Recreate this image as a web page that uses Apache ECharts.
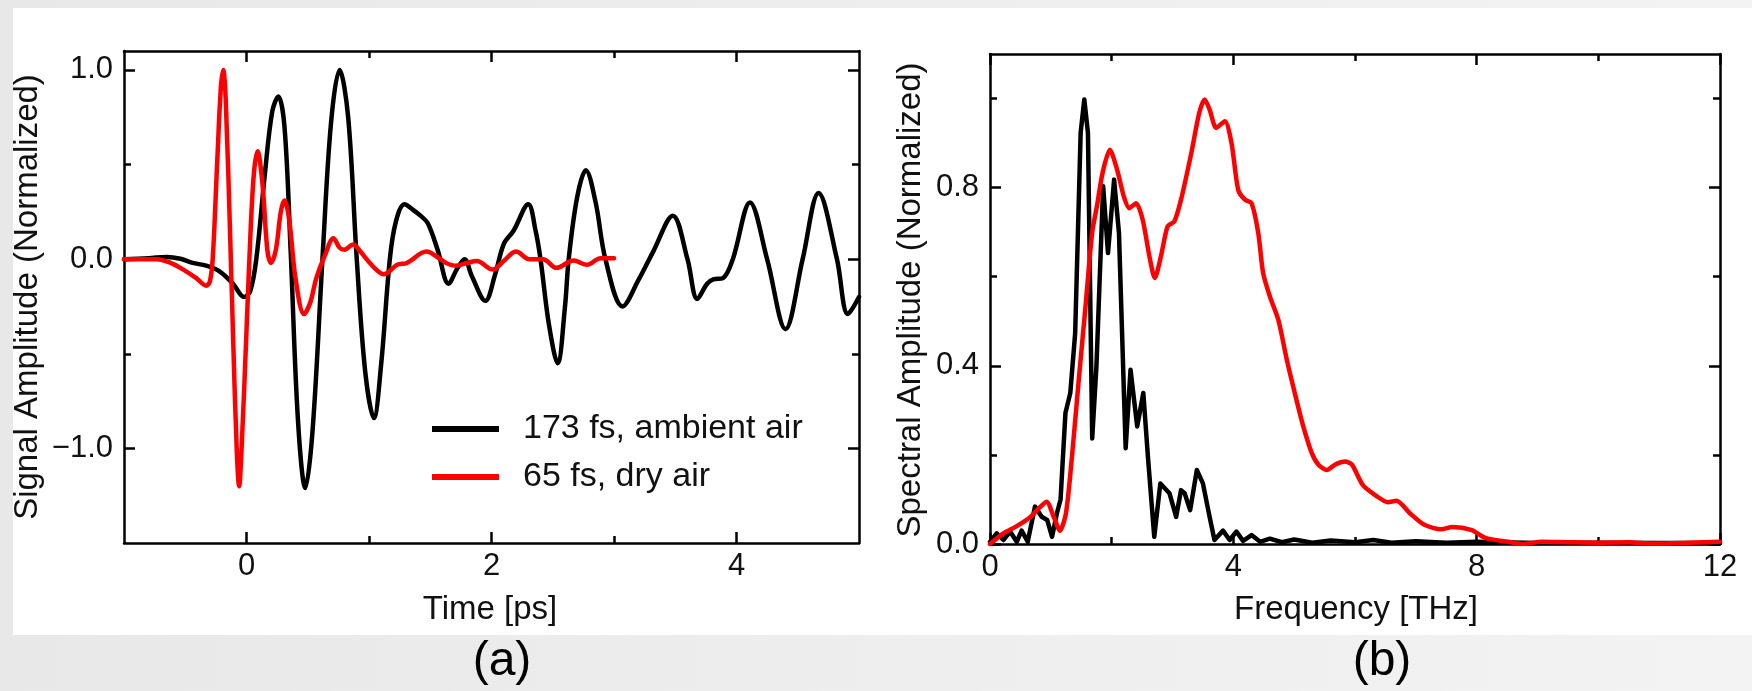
<!DOCTYPE html>
<html><head><meta charset="utf-8">
<script src="https://cdn.jsdelivr.net/npm/echarts@6/dist/echarts.min.js"></script>
<style>
html,body{margin:0;padding:0;width:1752px;height:691px;overflow:hidden;background:linear-gradient(to right,#e8e8e8,#f3f3f3);}
#panel{position:absolute;left:13px;top:8px;width:1739px;height:627px;background:#fff;}
#chart{position:absolute;left:0;top:0;width:1752px;height:691px;}
</style></head><body><div id="panel"></div><div id="chart"></div>
<script>
// ---- Data ----
const seriesNames = ['173 fs, ambient air', '65 fs, dry air'];
const panelLabels = ['(a)', '(b)'];
const axisTitles = ['Time [ps]', 'Signal Amplitude (Normalized)', 'Frequency [THz]', 'Spectral Amplitude (Normalized)'];

const timeMajorTicks = [0, 2, 4];
const timeMinorTicks = [1, 3];
const signalMajorTicks = [-1, 0, 1];
const signalMinorTicks = [-0.5, 0.5];
const freqMajorTicks = [0, 4, 8, 12];
const freqMinorTicks = [2, 6, 10];
const specMajorTicks = [0, 0.4, 0.8];
const specMinorTicks = [0.2, 0.6, 1.0];

// time-domain signal, ambient air (black)
const signalAmbient = [
  [-1.0,0.0],[-0.8,0.005],[-0.65,0.012],[-0.54,0.002],[-0.44,-0.02],[-0.33,-0.034],[-0.22,-0.064],
  [-0.11,-0.13],[-0.02,-0.2],[0.03,-0.17],[0.08,0.0],[0.15,0.45],[0.21,0.78],[0.26,0.86],[0.31,0.7],
  [0.36,0.05],[0.42,-0.85],[0.48,-1.21],[0.54,-0.9],[0.62,0.0],[0.69,0.72],[0.76,1.0],[0.83,0.75],
  [0.9,0.0],[0.97,-0.6],[1.04,-0.84],[1.1,-0.55],[1.17,0.0],[1.22,0.2],[1.29,0.29],[1.36,0.26],
  [1.42,0.23],[1.48,0.19],[1.56,0.05],[1.65,-0.13],[1.72,-0.05],[1.78,0.0],[1.84,-0.09],[1.95,-0.22],
  [2.03,-0.08],[2.1,0.08],[2.18,0.15],[2.3,0.29],[2.36,0.15],[2.4,0.0],[2.47,-0.35],[2.54,-0.55],
  [2.6,-0.25],[2.63,0.0],[2.7,0.33],[2.77,0.47],[2.85,0.3],[2.93,0.0],[3.07,-0.25],[3.2,-0.11],
  [3.32,0.04],[3.48,0.23],[3.6,0.0],[3.68,-0.21],[3.76,-0.13],[3.81,-0.107],[3.89,-0.1],[3.97,0.0],
  [4.11,0.3],[4.25,0.0],[4.4,-0.37],[4.54,0.0],[4.67,0.35],[4.82,0.0],[4.91,-0.29],[5.0,-0.2]
];
// time-domain signal, dry air (red)
const signalDry = [
  [-1.0,0.0],[-0.73,0.0],[-0.62,-0.02],[-0.54,-0.046],[-0.41,-0.1],[-0.33,-0.14],[-0.3,-0.12],
  [-0.276,0.0],[-0.24,0.5],[-0.21,0.9],[-0.19,1.0],[-0.17,0.85],[-0.13,0.05],[-0.11,-0.4],
  [-0.08,-1.0],[-0.06,-1.2],[-0.04,-1.0],[0.0,-0.38],[0.03,0.1],[0.06,0.45],[0.09,0.57],[0.13,0.4],
  [0.17,0.05],[0.2,-0.02],[0.24,0.05],[0.28,0.25],[0.31,0.31],[0.35,0.2],[0.4,-0.1],[0.47,-0.29],
  [0.52,-0.23],[0.57,-0.1],[0.64,0.02],[0.71,0.11],[0.76,0.06],[0.8,0.05],[0.87,0.078],[0.93,0.04],
  [0.98,0.0],[1.05,-0.05],[1.12,-0.08],[1.23,-0.03],[1.31,-0.02],[1.47,0.04],[1.56,0.01],[1.63,-0.02],
  [1.71,-0.035],[1.8,-0.02],[1.88,-0.01],[2.01,-0.055],[2.1,-0.01],[2.2,0.04],[2.31,0.0],[2.42,0.0],
  [2.53,-0.046],[2.67,-0.007],[2.78,-0.03],[2.89,0.005],[3.0,0.005]
];
// spectrum, ambient air (black)
const spectrumAmbient = [
  [0,0.005],[0.11,0.024],[0.22,0.009],[0.33,0.028],[0.44,0.005],[0.52,0.03],[0.62,0.005],[0.74,0.084],
  [0.85,0.061],[0.94,0.054],[1.02,0.016],[1.1,0.069],[1.16,0.1],[1.24,0.294],[1.32,0.339],[1.4,0.473],
  [1.49,0.923],[1.55,0.998],[1.61,0.923],[1.68,0.237],[1.75,0.4],[1.86,0.803],[1.94,0.653],[2.04,0.818],
  [2.12,0.698],[2.23,0.215],[2.31,0.391],[2.42,0.264],[2.52,0.339],[2.6,0.189],[2.7,0.016],[2.8,0.136],
  [2.95,0.114],[3.06,0.061],[3.14,0.121],[3.2,0.114],[3.29,0.076],[3.4,0.166],[3.5,0.136],[3.61,0.061],
  [3.69,0.009],[3.83,0.03],[3.94,0.009],[4.05,0.028],[4.16,0.007],[4.3,0.02],[4.44,0.005],[4.6,0.012],
  [4.8,0.004],[5.0,0.01],[5.3,0.003],[5.6,0.008],[6.0,0.004],[6.3,0.009],[6.6,0.003],[7.0,0.006],
  [7.5,0.003],[8.0,0.005],[9.0,0.002],[10.0,0.003],[11.0,0.002],[12.0,0.002]
];
// spectrum, dry air (red)
const spectrumDry = [
  [0,0.0],[0.22,0.024],[0.44,0.04],[0.66,0.06],[0.8,0.08],[0.93,0.095],[1.05,0.06],[1.15,0.03],
  [1.25,0.07],[1.35,0.2],[1.46,0.37],[1.57,0.533],[1.68,0.7],[1.76,0.76],[1.85,0.833],[1.97,0.885],
  [2.09,0.84],[2.2,0.78],[2.29,0.754],[2.4,0.765],[2.51,0.728],[2.62,0.646],[2.71,0.597],[2.81,0.646],
  [2.92,0.713],[3.03,0.724],[3.14,0.773],[3.31,0.878],[3.44,0.968],[3.53,0.998],[3.61,0.975],[3.72,0.934],
  [3.86,0.949],[3.97,0.9],[4.08,0.795],[4.19,0.773],[4.3,0.765],[4.41,0.698],[4.49,0.608],[4.6,0.556],
  [4.74,0.503],[4.88,0.413],[5.01,0.339],[5.15,0.264],[5.29,0.204],[5.4,0.178],[5.54,0.166],[5.67,0.178],
  [5.84,0.185],[5.95,0.178],[6.13,0.132],[6.36,0.107],[6.54,0.094],[6.68,0.097],[6.91,0.068],[7.14,0.043],
  [7.42,0.033],[7.6,0.038],[7.92,0.031],[8.15,0.013],[8.52,0.005],[8.75,0.0],[9.07,0.005],[9.5,0.004],
  [9.99,0.003],[10.5,0.004],[10.9,0.001],[11.5,0.003],[12,0.005]
];

// ---- Chart ----
const FONT = '"Liberation Sans", Arial, Helvetica, sans-serif';
const INK = '#111';
function fmt(v){ return v < 0 ? '\u2212' + Math.abs(v).toFixed(1) : v.toFixed(1); }
function axisSet(kind, gridIndex, min, max, major, minor, labelFmt){
  const pos = kind === 'x' ? ['bottom','top'] : ['left','right'];
  const out = [];
  pos.forEach((p, i) => {
    out.push({
      type:'value', gridIndex, position:p, min, max,
      axisLine:{show:true, onZero:false, lineStyle:{color:'#000', width:2.5}},
      axisTick:{show:true, inside:true, length:11, customValues:major, lineStyle:{color:'#000', width:2.5}},
      axisLabel:{show:i===0, customValues:major, formatter:labelFmt, fontSize:31, fontFamily:FONT, color:INK, margin: kind==='x'?8:11},
      splitLine:{show:false}
    });
    out.push({
      type:'value', gridIndex, position:p, min, max,
      axisLine:{show:false, onZero:false},
      axisTick:{show:true, inside:true, length:7, customValues:minor, lineStyle:{color:'#000', width:2.5}},
      axisLabel:{show:false},
      splitLine:{show:false}
    });
  });
  return out;
}
const xAxes = [].concat(
  axisSet('x', 0, -1, 5, timeMajorTicks, timeMinorTicks, v => String(v)),
  axisSet('x', 1, 0, 12, freqMajorTicks, freqMinorTicks, v => String(v))
);
const yAxes = [].concat(
  axisSet('y', 0, -1.5, 1.1, signalMajorTicks, signalMinorTicks, fmt),
  axisSet('y', 1, 0, 1.1, specMajorTicks, specMinorTicks, fmt)
);
function line(name, data, xi, color, smooth, z){
  return {type:'line', name, data, xAxisIndex:xi, yAxisIndex:xi, showSymbol:false, symbol:'none',
    smooth, z, lineStyle:{color, width:4.5, join:'round', cap:'round'}, itemStyle:{color}, animation:false};
}
const chart = echarts.init(document.getElementById('chart'), null, {renderer:'canvas'});
chart.setOption({
  backgroundColor:'transparent',
  animation:false,
  grid:[
    {left:124, top:51, width:735, height:492},
    {left:990, top:54, width:730, height:490}
  ],
  xAxis:xAxes,
  yAxis:yAxes,
  legend:{
    data:seriesNames, orient:'vertical', left:432, top:412, padding:0, itemGap:14,
    itemWidth:67, itemHeight:6, icon:'rect',
    textStyle:{fontSize:34, fontFamily:FONT, color:INK, padding:[0,0,0,19]}
  },
  series:[
    line(seriesNames[0], signalAmbient, 0, '#000000', 0.35, 2),
    line(seriesNames[1], signalDry, 0, '#ff0000', 0.35, 3),
    line(seriesNames[0], spectrumAmbient, 4, '#000000', false, 2),
    line(seriesNames[1], spectrumDry, 4, '#ff0000', 0.25, 3)
  ],
  graphic:[
    {type:'text', x:490, y:610, style:{text:axisTitles[0], font:'33px '+FONT, fill:INK, align:'center', verticalAlign:'middle'}},
    {type:'text', x:28, y:297, rotation:Math.PI/2, style:{text:axisTitles[1], font:'33px '+FONT, fill:INK, align:'center', verticalAlign:'middle'}},
    {type:'text', x:1356, y:610, style:{text:axisTitles[2], font:'33px '+FONT, fill:INK, align:'center', verticalAlign:'middle'}},
    {type:'text', x:911, y:300, rotation:Math.PI/2, style:{text:axisTitles[3], font:'33px '+FONT, fill:INK, align:'center', verticalAlign:'middle'}},
    {type:'text', x:502, y:662, style:{text:panelLabels[0], font:'48px '+FONT, fill:'#000', align:'center', verticalAlign:'middle'}},
    {type:'text', x:1382, y:662, style:{text:panelLabels[1], font:'48px '+FONT, fill:'#000', align:'center', verticalAlign:'middle'}}
  ]
});
</script></body></html>
